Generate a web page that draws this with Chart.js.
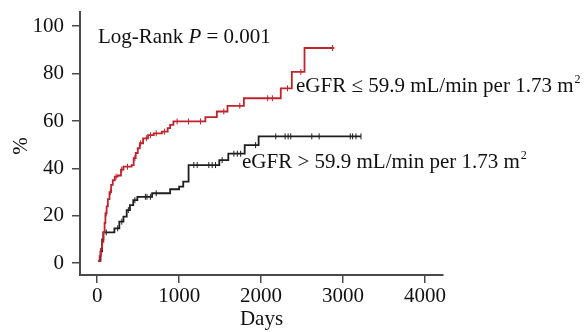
<!DOCTYPE html>
<html>
<head>
<meta charset="utf-8">
<script src="https://cdn.jsdelivr.net/npm/chart.js@4"></script>
<style>
  html, body { margin: 0; padding: 0; background: #fff; }
  #wrap { width: 585px; height: 332px; }
</style>
</head>
<body>
<div id="wrap"><canvas id="km" width="585" height="332"></canvas></div>
<script>
// step points of the two cumulative curves (days, %)
const lowDays = [10, 30, 45, 60, 75, 90, 100, 115, 130, 150, 170, 190, 215, 250, 290, 320, 420, 445, 470, 495, 520, 560, 620, 690, 790, 860, 890, 930, 1320, 1460, 1590, 1790, 2240, 2375, 2530, 2893];
const lowPct  = [1, 3, 6, 9, 13, 17, 21, 24, 27, 30, 33, 35, 36.5, 37, 39.5, 40.7, 41.4, 44.3, 46.5, 48.5, 50.6, 52.7, 54, 54.8, 55.5, 57, 58.4, 59.8, 61.6, 64, 66.4, 69.6, 73.8, 80.7, 90.8, 90.8];
const highDays = [10, 40, 60, 75, 210, 270, 320, 360, 400, 440, 490, 670, 890, 1000, 1050, 1115, 1490, 1600, 1800, 1970, 3219];
const highPct  = [1, 5, 10, 13, 14.7, 17.5, 19.6, 22.4, 24.5, 26.6, 28, 29.5, 31.2, 32.3, 34.4, 41.4, 43.5, 46.2, 49.8, 53.5, 53.5];

// censoring times
const lowCensor = [65, 110, 160, 230, 300, 370, 460, 530, 600, 650, 720, 820, 975, 1115, 1260, 1545, 1740, 2080, 2138, 2322, 2485, 2873];
const highCensor = [110, 250, 300, 380, 460, 588, 608, 649, 720, 1179, 1220, 1362, 1403, 1444, 1525, 1668, 1710, 1750, 1933, 2179, 2293, 2330, 2362, 2619, 2709, 3088, 3117, 3158, 3219];

const xTicks = [0, 1000, 2000, 3000, 4000];
const yTicks = [0, 20, 40, 60, 80, 100];

const RED = '#c0232b';
const BLACK = '#1e1e1e';
const AXIS = '#4a4a4a';
const FONT = '"Liberation Serif", "Times New Roman", serif';
const FS = 21;

function levelAt(days, pct, t) {
  let v = pct[0];
  for (let i = 0; i < days.length; i++) {
    if (days[i] <= t) v = pct[i];
  }
  return v;
}

const pts = (d, p) => d.map((x, i) => ({ x, y: p[i] }));
const censorPts = (c, d, p) => c.map(x => ({ x, y: levelAt(d, p, x) }));

const textPlugin = {
  id: 'texts',
  afterDraw(chart) {
    const ctx = chart.ctx;
    ctx.save();
    ctx.fillStyle = '#111';
    ctx.textBaseline = 'alphabetic';
    ctx.textAlign = 'left';

    // log-rank note
    let x = 98, y = 43;
    ctx.font = FS + 'px ' + FONT;
    ctx.fillText('Log-Rank ', x, y);
    x += ctx.measureText('Log-Rank ').width;
    ctx.font = 'italic ' + FS + 'px ' + FONT;
    ctx.fillText('P', x, y);
    x += ctx.measureText('P').width;
    ctx.font = FS + 'px ' + FONT;
    ctx.fillText(' = 0.001', x, y);

    const label = (txt, lx, ly) => {
      ctx.font = FS + 'px ' + FONT;
      ctx.fillText(txt, lx, ly);
      const w = ctx.measureText(txt).width;
      ctx.font = '12px ' + FONT;
      ctx.fillText('2', lx + w + 1, ly - 9);
    };
    label('eGFR \u2264 59.9 mL/min per 1.73 m', 296, 92);
    label('eGFR > 59.9 mL/min per 1.73 m', 242, 168);

    // y title
    ctx.font = FS + 'px ' + FONT;
    ctx.translate(27, 146);
    ctx.rotate(-Math.PI / 2);
    ctx.textAlign = 'center';
    ctx.fillText('%', 0, 0);
    ctx.restore();
  }
};

new Chart(document.getElementById('km'), {
  type: 'line',
  data: {
    datasets: [
      {
        label: 'low',
        data: pts(lowDays, lowPct),
        borderColor: RED,
        borderWidth: 1.8,
        stepped: 'before',
        pointRadius: 0,
        fill: false
      },
      {
        label: 'high',
        data: pts(highDays, highPct),
        borderColor: BLACK,
        borderWidth: 1.8,
        stepped: 'before',
        pointRadius: 0,
        fill: false
      },
      {
        label: 'low censored',
        data: censorPts(lowCensor, lowDays, lowPct),
        showLine: false,
        pointStyle: 'line',
        rotation: 90,
        pointRadius: 3,
        pointBorderWidth: 1,
        borderColor: RED
      },
      {
        label: 'high censored',
        data: censorPts(highCensor, highDays, highPct),
        showLine: false,
        pointStyle: 'line',
        rotation: 90,
        pointRadius: 3,
        pointBorderWidth: 1,
        borderColor: BLACK
      }
    ]
  },
  options: {
    responsive: false,
    animation: false,
    layout: { padding: { left: 0, right: 142, top: 12, bottom: 0 } },
    plugins: { legend: { display: false }, tooltip: { enabled: false } },
    scales: {
      x: {
        type: 'linear',
        min: -210,
        max: 4220,
        afterBuildTicks: s => { s.ticks = xTicks.map(v => ({ value: v })); },
        afterFit: s => { s.height = 57; s.paddingLeft = 0; s.paddingRight = 0; },
        border: { display: true, color: AXIS, width: 2 },
        grid: { display: true, drawOnChartArea: false, drawTicks: true, tickLength: 8, color: AXIS, lineWidth: 1.5 },
        ticks: { color: '#111', font: { family: FONT, size: FS }, padding: 1, maxRotation: 0, callback: v => String(v) },
        title: { display: true, text: 'Days', color: '#111', font: { family: FONT, size: FS }, padding: { top: 2, bottom: 0 } }
      },
      y: {
        type: 'linear',
        min: -5,
        max: 106,
        afterBuildTicks: s => { s.ticks = yTicks.map(v => ({ value: v })); },
        afterFit: s => { s.width = 80; s.paddingTop = 0; s.paddingBottom = 0; },
        border: { display: true, color: AXIS, width: 2 },
        grid: { display: true, drawOnChartArea: false, drawTicks: true, tickLength: 8, color: AXIS, lineWidth: 1.5 },
        ticks: { color: '#111', font: { family: FONT, size: FS }, padding: 8, callback: v => String(v) }
      }
    }
  },
  plugins: [textPlugin]
});
</script>
</body>
</html>
